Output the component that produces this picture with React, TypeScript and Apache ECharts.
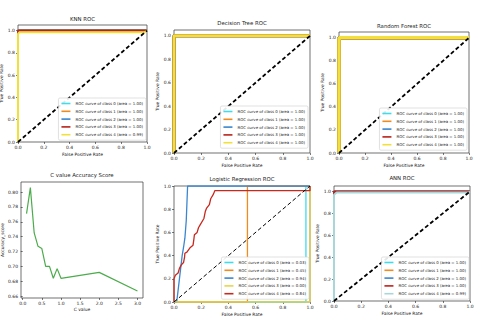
import React, { useEffect, useRef } from "react";
import * as echarts from "echarts";

const W = 480;
const H = 323;
const FONT = "'DejaVu Sans', 'Liberation Sans', sans-serif";
const INK = "#222222";

// ---------- data ----------
const rocTicks = [0, 0.2, 0.4, 0.6, 0.8, 1.0];
const cTicksX = [0, 0.5, 1.0, 1.5, 2.0, 2.5, 3.0];
const cTicksY = [0.66, 0.68, 0.7, 0.72, 0.74, 0.76, 0.78, 0.8];

const cValues = [0.1, 0.2, 0.3, 0.4, 0.5, 0.6, 0.7, 0.8, 0.9, 1.0, 2.0, 3.0];
const accuracy = [0.771, 0.806, 0.745, 0.727, 0.724, 0.7, 0.7, 0.684, 0.697, 0.684, 0.692, 0.667];

const diagonal = [[0, 0], [1, 1]];
const perfect = [[0, 0], [0, 1], [1, 1]];

const knnClass4 = [[0, 0], [0, 0.97], [0.01, 0.985], [0.98, 0.985], [1, 1]];
const annClass4 = [[0, 0], [0, 0.97], [0.02, 0.99], [0.99, 0.99], [1, 1]];

const lrClass0 = [[0, 0], [0.97, 0], [0.97, 1], [1, 1]];
const lrClass1 = [[0, 0], [0.54, 0], [0.54, 1], [1, 1]];
const lrClass2 = [[0, 0], [0.02, 0], [0.04, 0.2], [0.05, 0.3], [0.06, 0.4], [0.07, 0.47], [0.08, 0.55], [0.09, 0.7], [0.1, 1.0], [1, 1]];
const lrClass3 = [[0, 0], [1, 0], [1, 1]];
const lrClass4 = [
  [0, 0], [0, 0.2], [0.01, 0.23], [0.03, 0.25], [0.04, 0.29], [0.054, 0.32], [0.07, 0.34],
  [0.078, 0.39], [0.08, 0.42], [0.095, 0.43], [0.12, 0.47], [0.14, 0.49], [0.146, 0.54],
  [0.15, 0.58], [0.17, 0.6], [0.18, 0.64], [0.19, 0.66], [0.22, 0.72], [0.23, 0.78],
  [0.24, 0.81], [0.26, 0.84], [0.27, 0.89], [0.29, 0.93], [0.3, 0.96], [1, 0.96], [1, 1],
];

const knnAreas = ["1.00", "1.00", "1.00", "1.00", "0.99"];
const dtAreas = ["1.00", "1.00", "1.00", "1.00", "1.00"];
const rfAreas = ["1.00", "1.00", "1.00", "1.00", "1.00"];
const lrAreas = ["0.03", "0.45", "0.94", "0.00", "0.84"];
const annAreas = ["1.00", "1.00", "1.00", "1.00", "0.99"];

const baseColors = ["#3fdcec", "#f08c1e", "#3a86cf", "#b8231a", "#f2e03a"];
const lrColors = ["#3fdcec", "#f08c1e", "#3a86cf", "#e6d64a", "#c8281e"];
const annColors = ["#3fdcec", "#f08c1e", "#3a86cf", "#c0201a", "#a9d6d8"];

// ---------- option builders ----------
const txt = (size: number) => ({ fontSize: size, fontFamily: FONT, color: INK });

function axisCommon(ticks: number[], digits: number) {
  return {
    type: "value" as const,
    axisLine: { show: false },
    splitLine: { show: false },
    axisTick: { show: true, length: 2, lineStyle: { color: INK, width: 0.6 }, customValues: ticks },
    axisLabel: { customValues: ticks, formatter: (v: number) => v.toFixed(digits), margin: 3, ...txt(4.5) },
    nameLocation: "middle" as const,
    nameTextStyle: txt(4.4),
  };
}

function gridOf(box: number[]) {
  return {
    left: box[0], top: box[1], width: box[2], height: box[3],
    show: true, borderColor: "#333333", borderWidth: 0.7, backgroundColor: "#ffffff",
    containLabel: false, outerBoundsMode: "none",
  };
}

function titleOf(text: string, cx: number, cy: number) {
  return {
    text, left: cx, top: cy - 3.3, textAlign: "center", padding: 0,
    textStyle: { ...txt(5.4), fontWeight: "normal" },
  };
}

type RocCfg = {
  title: string; box: number[]; titlePos: number[]; legendRight: number; legendTop: number;
  curves: number[][][]; areas: string[]; colors: string[]; lw: number; diagW: number; yMax: number;
};

function rocOption(c: RocCfg) {
  const names = c.areas.map((a, i) => `ROC curve of class ${i} (area = ${a})`);
  const series: any[] = c.curves.map((d, i) => ({
    type: "line", name: names[i], data: d, showSymbol: false, symbol: "none", silent: true,
    color: c.colors[i], itemStyle: { color: c.colors[i] },
    lineStyle: { color: c.colors[i], width: c.lw }, z: 2 + i * 0.01,
  }));
  series.push({
    type: "line", name: "chance", data: diagonal, showSymbol: false, symbol: "none", silent: true,
    lineStyle: { color: "#000000", width: c.diagW, type: [4, 2.5] }, z: 3,
  });
  return {
    animation: false,
    title: titleOf(c.title, c.titlePos[0], c.titlePos[1]),
    grid: gridOf(c.box),
    xAxis: { ...axisCommon(rocTicks, 1), min: 0, max: 1, name: "False Positive Rate", nameGap: 10 },
    yAxis: { ...axisCommon(rocTicks, 1), min: 0, max: c.yMax, name: "True Positive Rate", nameGap: 10 },
    legend: {
      data: names, orient: "vertical", right: c.legendRight, top: c.legendTop,
      padding: [2.5, 3], itemGap: 1.8, itemWidth: 9, itemHeight: 1.6, icon: "rect",
      backgroundColor: "rgba(255,255,255,0.9)", borderColor: "#cccccc", borderWidth: 0.6, borderRadius: 1.5,
      textStyle: { ...txt(3.9), lineHeight: 6 }, selectedMode: false,
    },
    series,
  };
}

const knnOption = rocOption({
  title: "KNN ROC", box: [18, 25, 129, 117], titlePos: [82.5, 20], legendRight: W - 146, legendTop: 98,
  curves: [perfect, perfect, perfect, perfect, knnClass4], areas: knnAreas, colors: baseColors,
  lw: 2, diagW: 1.8, yMax: 1.05,
});
const dtOption = rocOption({
  title: "Decision Tree ROC", box: [174, 30, 136, 123], titlePos: [242, 24], legendRight: W - 308, legendTop: 106,
  curves: [perfect, perfect, perfect, perfect, perfect], areas: dtAreas, colors: baseColors,
  lw: 3, diagW: 1.8, yMax: 1.05,
});
const rfOption = rocOption({
  title: "Random Forest ROC", box: [339, 32, 130, 121], titlePos: [404, 27], legendRight: W - 467, legendTop: 108,
  curves: [perfect, perfect, perfect, perfect, perfect], areas: rfAreas, colors: baseColors,
  lw: 3.5, diagW: 1.8, yMax: 1.05,
});
const lrOption = rocOption({
  title: "Logistic Regression ROC", box: [174, 186, 136, 116], titlePos: [242, 180], legendRight: W - 309, legendTop: 257,
  curves: [lrClass0, lrClass1, lrClass2, lrClass3, lrClass4], areas: lrAreas, colors: lrColors,
  lw: 1.3, diagW: 1, yMax: 1.0,
});
const annOption = rocOption({
  title: "ANN ROC", box: [334, 186, 136, 115], titlePos: [402, 179], legendRight: W - 469, legendTop: 257,
  curves: [perfect, perfect, perfect, perfect, annClass4], areas: annAreas, colors: annColors,
  lw: 2, diagW: 1.8, yMax: 1.05,
});

const cOption = {
  animation: false,
  title: titleOf("C value Accuracy Score", 82, 176),
  grid: gridOf([21, 182, 122, 116]),
  xAxis: { ...axisCommon(cTicksX, 1), min: -0.045, max: 3.145, name: "C value", nameGap: 9.5 },
  yAxis: { ...axisCommon(cTicksY, 2), min: 0.6575, max: 0.8135, name: "Accuracy_score", nameGap: 14 },
  series: [
    {
      type: "line", name: "accuracy", data: cValues.map((c, i) => [c, accuracy[i]]),
      showSymbol: false, symbol: "none", silent: true,
      lineStyle: { color: "#4cab4c", width: 1.2 },
    },
  ],
};

const options = [knnOption, dtOption, rfOption, cOption, lrOption, annOption];

function Chart({ option }: { option: any }) {
  const ref = useRef<HTMLDivElement>(null);
  useEffect(() => {
    const chart = echarts.init(ref.current!, null, { renderer: "svg" });
    chart.setOption(option);
    return () => chart.dispose();
  }, [option]);
  return <div ref={ref} style={{ position: "absolute", left: 0, top: 0, width: W, height: H }} />;
}

export default function App() {
  return (
    <div style={{ position: "fixed", left: 0, top: 0, width: W, height: H, background: "#ffffff", overflow: "hidden" }}>
      {options.map((o, i) => (
        <Chart key={i} option={o} />
      ))}
    </div>
  );
}
